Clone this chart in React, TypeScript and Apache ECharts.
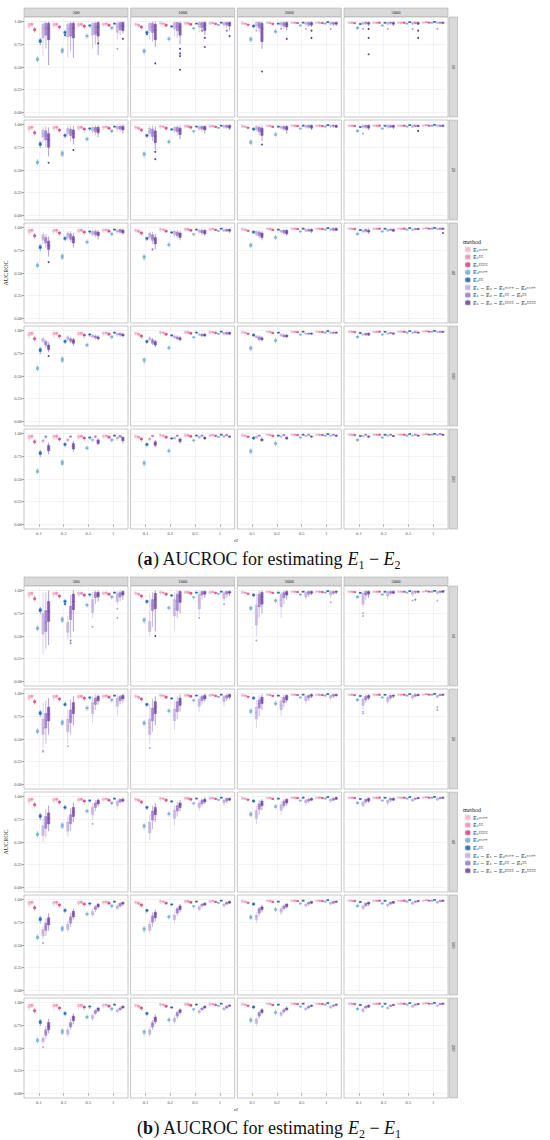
import { useEffect, useRef } from 'react';
import * as echarts from 'echarts';

// ---------- categories / labels ----------
const CATS = ['0.1', '0.2', '0.5', '1'];
const NS = ['500', '1000', '2000', '5000'];
const GROUPS = ['10', '20', '40', '100', '200'];
const LEG_A = [
  'E₁ⁿᵃⁱᵛᵉ', 'E₁ᴱᴱ', 'E₁ᴱᴱᴱᴱ', 'E₂ⁿᵃⁱᵛᵉ', 'E₂ᴱᴱ',
  'E₁ − E₂ ∼ E₁ⁿᵃⁱᵛᵉ − E₂ⁿᵃⁱᵛᵉ', 'E₁ − E₂ ∼ E₁ᴱᴱ − E₂ᴱᴱ', 'E₁ − E₂ ∼ E₁ᴱᴱᴱᴱ − E₂ᴱᴱᴱᴱ',
];
const LEG_B = [
  'E₁ⁿᵃⁱᵛᵉ', 'E₁ᴱᴱ', 'E₁ᴱᴱᴱᴱ', 'E₂ⁿᵃⁱᵛᵉ', 'E₂ᴱᴱ',
  'E₂ − E₁ ∼ E₂ⁿᵃⁱᵛᵉ − E₁ⁿᵃⁱᵛᵉ', 'E₂ − E₁ ∼ E₂ᴱᴱ − E₁ᴱᴱ', 'E₂ − E₁ ∼ E₂ᴱᴱᴱᴱ − E₁ᴱᴱᴱᴱ',
];

// ---------- single-estimator boxes (methods 1-5), per n; [lo,q1,med,q3,hi] in % per r2 ----------
const S_500 = [
  [[91, 94, 96, 98, 99], [92, 95, 97, 98, 99], [93, 95, 97, 98, 99], [94, 96, 97, 98, 99]],
  [[94, 96, 97, 98, 99], [94, 96, 97, 98, 99], [95, 96, 97, 98, 99], [95, 97, 98, 98, 99]],
  [[88, 90, 91, 92, 94], [91, 93, 94, 95, 96], [92, 94, 95, 96, 97], [94, 95, 96, 97, 98]],
  [[55, 57, 58, 60, 62], [64, 66, 68, 70, 72], [81, 83, 84, 85, 87], [90, 92, 93, 94, 95]],
  [[74, 77, 78, 80, 82], [85, 87, 88, 89, 91], [93, 95, 96, 96, 97], [97, 97, 98, 98, 99]],
];
const S_1000 = [
  [[94, 96, 97, 98, 99], [95, 97, 98, 99, 100], [96, 97, 98, 99, 100], [96, 97, 98, 99, 100]],
  [[94, 95, 96, 97, 98], [96, 97, 98, 98, 99], [96, 97, 98, 99, 99], [97, 98, 98, 99, 99]],
  [[91, 93, 94, 95, 96], [94, 95, 96, 97, 98], [95, 96, 97, 98, 98], [96, 97, 97, 98, 99]],
  [[63, 66, 68, 69, 71], [78, 80, 81, 82, 84], [90, 92, 93, 93, 94], [95, 96, 96, 97, 97]],
  [[85, 87, 88, 89, 90], [93, 94, 95, 95, 96], [97, 98, 98, 98, 99], [98, 99, 99, 99, 100]],
];
const S_2000 = [
  [[96, 97, 98, 99, 100], [97, 98, 99, 99, 100], [97, 98, 99, 99, 100], [97, 98, 99, 99, 100]],
  [[96, 97, 98, 98, 99], [97, 98, 98, 99, 100], [97, 98, 99, 99, 100], [97, 98, 99, 99, 100]],
  [[95, 96, 96, 97, 98], [96, 97, 97, 98, 99], [97, 98, 98, 99, 99], [97, 98, 98, 99, 99]],
  [[77, 79, 81, 82, 84], [86, 88, 89, 90, 92], [94, 95, 96, 96, 97], [97, 97, 98, 98, 99]],
  [[93, 94, 95, 96, 97], [97, 97, 98, 98, 99], [98, 99, 99, 99, 100], [99, 99, 99, 100, 100]],
];
const S_5000 = [
  [[97, 98, 99, 99, 100], [97, 98, 99, 99, 100], [98, 98, 99, 99, 100], [98, 98, 99, 99, 100]],
  [[97, 98, 99, 99, 100], [97, 98, 99, 99, 100], [98, 98, 99, 99, 100], [98, 99, 99, 100, 100]],
  [[97, 98, 98, 99, 99], [98, 98, 99, 99, 100], [98, 98, 99, 99, 100], [98, 99, 99, 99, 100]],
  [[91, 92, 93, 94, 95], [94, 95, 96, 96, 97], [97, 97, 98, 98, 99], [98, 98, 99, 99, 100]],
  [[96, 97, 97, 98, 98], [98, 98, 99, 99, 99], [99, 99, 99, 100, 100], [99, 99, 100, 100, 100]],
];
const SINGLES = [S_500, S_1000, S_2000, S_5000];

// ---------- difference methods (6-8), panel (a), per group: [n500,n1000,n2000,n5000] x [m6,m7,m8] x r2 ----------
const A_10 = [
  [[[62, 82, 92, 97, 100], [60, 83, 92, 97, 100], [70, 85, 93, 98, 100], [80, 88, 94, 98, 100]],
   [[70, 85, 93, 98, 100], [68, 84, 92, 98, 100], [75, 86, 94, 98, 100], [85, 91, 96, 99, 100]],
   [[52, 80, 92, 98, 100], [60, 82, 93, 98, 100], [63, 84, 94, 99, 100], [87, 90, 95, 99, 100]]],
  [[[80, 90, 95, 98, 100], [84, 92, 96, 99, 100], [88, 94, 97, 99, 100], [92, 96, 98, 99, 100]],
   [[78, 88, 94, 98, 100], [82, 90, 95, 99, 100], [88, 93, 97, 99, 100], [92, 96, 98, 99, 100]],
   [[72, 80, 90, 97, 100], [75, 85, 93, 98, 100], [85, 90, 96, 99, 100], [90, 95, 98, 99, 100]]],
  [[[92, 95, 97, 99, 100], [93, 96, 98, 99, 100], [94, 97, 98, 99, 100], [95, 97, 98, 99, 100]],
   [[88, 93, 96, 99, 100], [92, 95, 97, 99, 100], [94, 96, 98, 99, 100], [95, 97, 98, 99, 100]],
   [[70, 78, 92, 98, 100], [90, 94, 97, 99, 100], [94, 96, 98, 99, 100], [95, 97, 98, 99, 100]]],
  [[[96, 97, 98, 99, 100], [96, 97, 98, 99, 100], [96, 97, 98, 99, 100], [97, 98, 99, 99, 100]],
   [[96, 98, 99, 99, 100], [96, 98, 99, 99, 100], [97, 98, 99, 99, 100], [97, 98, 99, 99, 100]],
   [[95, 97, 98, 99, 100], [95, 97, 98, 99, 100], [96, 97, 98, 99, 100], [97, 98, 99, 99, 100]]],
];
const A_20 = [
  [[[80, 86, 90, 94, 98], [86, 90, 93, 96, 99], [90, 93, 95, 97, 99], [92, 95, 97, 98, 100]],
   [[75, 83, 88, 93, 98], [82, 88, 92, 95, 99], [88, 92, 95, 97, 99], [92, 95, 97, 98, 100]],
   [[65, 75, 83, 90, 97], [78, 85, 90, 94, 98], [86, 91, 94, 97, 99], [90, 94, 96, 98, 100]]],
  [[[86, 90, 93, 96, 99], [90, 93, 95, 97, 99], [93, 95, 97, 98, 99], [95, 97, 98, 99, 100]],
   [[82, 87, 91, 95, 99], [88, 92, 94, 97, 99], [92, 95, 97, 98, 99], [95, 97, 98, 99, 100]],
   [[72, 80, 87, 93, 98], [84, 89, 93, 96, 99], [90, 94, 96, 98, 99], [94, 96, 98, 99, 100]]],
  [[[92, 94, 96, 98, 99], [94, 96, 97, 98, 99], [95, 97, 98, 99, 100], [96, 98, 98, 99, 100]],
   [[88, 92, 95, 97, 99], [93, 95, 97, 98, 99], [95, 97, 98, 99, 100], [96, 98, 99, 99, 100]],
   [[82, 88, 93, 96, 99], [90, 94, 96, 98, 99], [94, 96, 98, 99, 100], [96, 97, 98, 99, 100]]],
  [[[95, 97, 98, 99, 100], [95, 97, 98, 99, 100], [96, 97, 98, 99, 100], [97, 98, 99, 99, 100]],
   [[95, 97, 98, 99, 100], [96, 97, 98, 99, 100], [97, 98, 99, 99, 100], [97, 98, 99, 99, 100]],
   [[94, 96, 98, 99, 100], [95, 97, 98, 99, 100], [97, 98, 98, 99, 100], [97, 98, 99, 99, 100]]],
];
const A_40 = [
  [[[82, 86, 89, 92, 95], [86, 89, 92, 94, 96], [90, 92, 94, 96, 98], [93, 95, 96, 97, 99]],
   [[78, 83, 86, 89, 93], [84, 87, 90, 93, 96], [89, 92, 94, 96, 98], [93, 95, 97, 98, 99]],
   [[68, 76, 80, 85, 90], [78, 83, 87, 90, 94], [87, 91, 93, 95, 97], [92, 94, 96, 97, 99]]],
  [[[86, 89, 92, 94, 96], [90, 92, 94, 96, 98], [93, 95, 96, 97, 99], [95, 96, 97, 98, 99]],
   [[82, 86, 89, 92, 95], [88, 91, 93, 95, 97], [92, 94, 96, 97, 99], [95, 96, 97, 98, 99]],
   [[76, 82, 86, 89, 93], [86, 89, 92, 94, 96], [91, 93, 95, 97, 98], [94, 96, 97, 98, 99]]],
  [[[90, 92, 94, 96, 97], [93, 95, 96, 97, 98], [95, 96, 97, 98, 99], [96, 97, 98, 99, 99]],
   [[88, 91, 93, 95, 97], [92, 94, 96, 97, 98], [95, 96, 97, 98, 99], [96, 97, 98, 99, 100]],
   [[86, 89, 92, 94, 96], [91, 93, 95, 97, 98], [94, 96, 97, 98, 99], [96, 97, 98, 99, 100]]],
  [[[94, 95, 96, 97, 98], [95, 96, 97, 98, 99], [96, 97, 98, 98, 99], [97, 98, 98, 99, 99]],
   [[94, 96, 97, 98, 99], [96, 97, 98, 98, 99], [97, 98, 98, 99, 99], [97, 98, 99, 99, 100]],
   [[93, 95, 96, 97, 99], [95, 96, 97, 98, 99], [97, 98, 98, 99, 99], [98, 98, 99, 99, 100]]],
];
const A_100 = [
  [[[86, 88, 90, 91, 93], [88, 90, 92, 93, 95], [91, 93, 94, 95, 96], [93, 95, 96, 97, 98]],
   [[81, 84, 86, 88, 90], [86, 88, 90, 91, 93], [90, 92, 93, 94, 96], [93, 95, 96, 97, 98]],
   [[76, 79, 82, 84, 87], [83, 86, 88, 90, 92], [89, 91, 92, 93, 95], [93, 94, 95, 96, 98]]],
  [[[88, 90, 91, 92, 94], [91, 92, 93, 94, 96], [94, 95, 96, 96, 97], [95, 96, 97, 98, 98]],
   [[84, 86, 88, 90, 92], [89, 91, 92, 93, 95], [93, 94, 95, 96, 97], [95, 96, 97, 98, 99]],
   [[82, 84, 86, 88, 90], [88, 90, 91, 92, 94], [93, 94, 95, 96, 97], [95, 96, 97, 98, 99]]],
  [[[91, 92, 93, 94, 95], [93, 94, 95, 96, 97], [95, 96, 97, 97, 98], [96, 97, 98, 98, 99]],
   [[88, 90, 92, 93, 95], [92, 93, 94, 95, 97], [95, 96, 97, 97, 98], [96, 97, 98, 98, 99]],
   [[88, 90, 91, 92, 94], [92, 93, 94, 95, 96], [95, 96, 97, 97, 98], [97, 97, 98, 98, 99]]],
  [[[94, 95, 96, 96, 97], [95, 96, 97, 97, 98], [96, 97, 98, 98, 99], [97, 98, 98, 99, 99]],
   [[94, 95, 96, 97, 98], [96, 97, 97, 98, 98], [97, 98, 98, 99, 99], [98, 98, 99, 99, 99]],
   [[94, 95, 96, 97, 98], [96, 96, 97, 97, 98], [97, 98, 98, 98, 99], [98, 98, 99, 99, 99]]],
];
const A_200 = [
  [[[89, 91, 92, 93, 94], [90, 92, 93, 94, 95], [91, 92, 93, 94, 96], [92, 94, 95, 96, 97]],
   [[94, 96, 97, 97, 98], [95, 96, 97, 97, 98], [95, 96, 97, 97, 98], [95, 96, 97, 98, 98]],
   [[77, 81, 84, 87, 90], [80, 83, 86, 89, 92], [87, 89, 91, 93, 95], [89, 92, 94, 96, 97]]],
  [[[92, 93, 94, 95, 96], [93, 94, 95, 96, 97], [94, 95, 96, 97, 98], [95, 96, 97, 98, 98]],
   [[96, 97, 97, 98, 98], [96, 97, 98, 98, 99], [97, 97, 98, 98, 99], [97, 98, 98, 99, 99]],
   [[85, 87, 89, 91, 93], [89, 91, 93, 94, 96], [93, 94, 95, 96, 97], [95, 96, 97, 97, 98]]],
  [[[94, 95, 96, 97, 98], [95, 96, 97, 97, 98], [96, 97, 97, 98, 98], [96, 97, 98, 98, 99]],
   [[97, 97, 98, 98, 99], [97, 98, 98, 99, 99], [98, 98, 99, 99, 99], [98, 98, 99, 99, 100]],
   [[91, 92, 93, 94, 96], [93, 94, 95, 96, 97], [95, 96, 97, 97, 98], [96, 97, 98, 98, 99]]],
  [[[96, 97, 97, 98, 98], [96, 97, 98, 98, 99], [97, 97, 98, 98, 99], [97, 98, 98, 99, 99]],
   [[98, 98, 99, 99, 99], [98, 98, 99, 99, 100], [98, 99, 99, 99, 100], [98, 99, 99, 100, 100]],
   [[95, 96, 97, 97, 98], [96, 97, 97, 98, 98], [97, 98, 98, 98, 99], [98, 98, 99, 99, 99]]],
];

// ---------- difference methods (6-8), panel (b) ----------
const B_10 = [
  [[[30, 52, 62, 75, 98], [46, 54, 60, 65, 72], [70, 76, 83, 90, 98], [84, 88, 93, 97, 100]],
   [[36, 55, 65, 78, 98], [48, 68, 76, 83, 95], [85, 92, 95, 98, 100], [88, 93, 96, 98, 100]],
   [[40, 66, 77, 88, 100], [55, 79, 88, 96, 100], [88, 93, 96, 98, 100], [90, 95, 97, 99, 100]]],
  [[[50, 55, 60, 66, 97], [55, 72, 80, 90, 98], [72, 80, 88, 96, 100], [88, 91, 95, 98, 100]],
   [[60, 78, 84, 90, 98], [70, 78, 88, 96, 100], [90, 95, 97, 99, 100], [92, 96, 98, 99, 100]],
   [[55, 80, 90, 97, 100], [75, 87, 94, 99, 100], [92, 96, 98, 99, 100], [94, 97, 98, 99, 100]]],
  [[[50, 62, 72, 84, 97], [70, 82, 90, 96, 99], [90, 93, 96, 98, 100], [92, 95, 97, 99, 100]],
   [[70, 82, 90, 96, 100], [85, 92, 96, 98, 100], [93, 96, 98, 99, 100], [95, 97, 98, 99, 100]],
   [[75, 85, 93, 98, 100], [90, 95, 97, 99, 100], [95, 97, 98, 99, 100], [96, 98, 99, 99, 100]]],
  [[[80, 85, 92, 97, 100], [90, 94, 97, 99, 100], [93, 96, 98, 99, 100], [95, 97, 98, 99, 100]],
   [[90, 95, 97, 99, 100], [95, 97, 98, 99, 100], [96, 98, 99, 99, 100], [97, 98, 99, 99, 100]],
   [[92, 96, 98, 99, 100], [96, 97, 98, 99, 100], [97, 98, 99, 99, 100], [98, 98, 99, 100, 100]]],
];
const B_20 = [
  [[[40, 55, 62, 72, 90], [45, 58, 64, 72, 82], [68, 78, 84, 90, 97], [75, 86, 91, 95, 99]],
   [[45, 62, 70, 78, 92], [55, 68, 75, 82, 93], [82, 88, 92, 95, 99], [88, 92, 95, 97, 99]],
   [[55, 70, 77, 85, 95], [65, 78, 84, 90, 97], [88, 92, 95, 97, 99], [90, 94, 96, 98, 100]]],
  [[[45, 55, 63, 72, 88], [60, 70, 76, 83, 92], [80, 86, 90, 94, 98], [86, 91, 94, 97, 99]],
   [[58, 70, 77, 84, 94], [72, 80, 86, 91, 97], [88, 92, 95, 97, 99], [92, 95, 97, 98, 100]],
   [[65, 78, 85, 91, 97], [80, 87, 91, 95, 99], [91, 94, 96, 98, 100], [94, 96, 98, 99, 100]]],
  [[[62, 72, 79, 85, 93], [75, 82, 87, 92, 97], [88, 92, 94, 97, 99], [92, 95, 97, 98, 99]],
   [[75, 84, 89, 93, 98], [85, 90, 93, 96, 99], [92, 95, 97, 98, 99], [95, 97, 98, 99, 100]],
   [[82, 89, 93, 96, 99], [90, 93, 96, 98, 99], [95, 97, 98, 99, 100], [96, 98, 98, 99, 100]]],
  [[[82, 87, 91, 94, 97], [88, 91, 94, 96, 98], [92, 95, 97, 98, 99], [94, 96, 97, 98, 99]],
   [[90, 93, 95, 97, 99], [93, 95, 97, 98, 99], [96, 97, 98, 99, 100], [97, 98, 98, 99, 100]],
   [[93, 95, 97, 98, 99], [95, 97, 98, 98, 99], [97, 98, 98, 99, 100], [98, 98, 99, 99, 100]]],
];
const B_40 = [
  [[[50, 57, 62, 68, 76], [56, 62, 67, 72, 78], [74, 80, 84, 88, 93], [86, 90, 92, 95, 97]],
   [[55, 65, 71, 78, 86], [62, 70, 75, 80, 87], [84, 88, 91, 93, 96], [92, 94, 95, 97, 98]],
   [[62, 70, 76, 82, 90], [72, 78, 83, 88, 93], [89, 92, 94, 96, 98], [93, 95, 96, 97, 99]]],
  [[[52, 60, 66, 72, 80], [68, 76, 80, 85, 90], [84, 88, 91, 93, 96], [90, 93, 95, 96, 98]],
   [[64, 74, 79, 84, 90], [78, 84, 87, 90, 94], [89, 92, 94, 96, 98], [93, 95, 97, 98, 99]],
   [[72, 80, 84, 88, 93], [84, 88, 91, 93, 96], [92, 94, 96, 97, 99], [95, 96, 97, 98, 99]]],
  [[[70, 76, 80, 85, 90], [80, 85, 88, 91, 95], [90, 93, 95, 96, 98], [93, 95, 96, 97, 98]],
   [[80, 86, 89, 92, 96], [87, 90, 93, 95, 97], [93, 95, 96, 97, 99], [95, 96, 97, 98, 99]],
   [[85, 90, 92, 95, 97], [90, 93, 95, 97, 98], [95, 96, 97, 98, 99], [96, 97, 98, 99, 100]]],
  [[[87, 90, 92, 94, 96], [90, 93, 94, 96, 97], [94, 95, 96, 97, 98], [95, 96, 97, 98, 99]],
   [[92, 94, 96, 97, 98], [94, 96, 97, 98, 99], [96, 97, 98, 98, 99], [97, 98, 98, 99, 100]],
   [[93, 95, 97, 98, 99], [95, 96, 97, 98, 99], [97, 98, 98, 99, 99], [98, 98, 99, 99, 100]]],
];
const B_100 = [
  [[[56, 60, 64, 67, 71], [63, 67, 70, 73, 76], [80, 83, 85, 87, 90], [88, 90, 92, 93, 95]],
   [[60, 66, 70, 74, 79], [70, 74, 78, 81, 85], [86, 89, 91, 92, 94], [91, 93, 94, 96, 97]],
   [[66, 72, 76, 80, 85], [78, 81, 84, 87, 90], [90, 92, 93, 95, 96], [93, 95, 96, 97, 98]]],
  [[[62, 66, 70, 73, 77], [74, 78, 81, 83, 87], [87, 89, 91, 92, 94], [91, 93, 94, 95, 96]],
   [[70, 75, 79, 82, 86], [82, 85, 88, 90, 92], [91, 93, 94, 95, 96], [94, 95, 96, 97, 98]],
   [[76, 80, 84, 86, 89], [86, 89, 91, 93, 95], [93, 94, 95, 96, 97], [95, 96, 97, 98, 99]]],
  [[[74, 78, 81, 83, 86], [83, 86, 88, 90, 92], [91, 93, 94, 95, 96], [93, 95, 96, 97, 98]],
   [[82, 85, 88, 90, 92], [88, 90, 92, 93, 95], [93, 95, 96, 97, 98], [95, 96, 97, 98, 99]],
   [[86, 89, 91, 92, 94], [90, 92, 94, 95, 96], [95, 96, 97, 98, 98], [96, 97, 98, 98, 99]]],
  [[[88, 90, 92, 93, 95], [91, 93, 94, 95, 96], [94, 95, 96, 97, 98], [95, 96, 97, 98, 99]],
   [[92, 93, 95, 96, 97], [94, 95, 96, 97, 98], [96, 97, 98, 98, 99], [97, 98, 98, 99, 99]],
   [[93, 95, 96, 97, 98], [95, 96, 97, 98, 98], [97, 98, 98, 99, 99], [98, 98, 99, 99, 100]]],
];
const B_200 = [
  [[[54, 57, 59, 61, 64], [62, 65, 68, 70, 73], [80, 82, 84, 86, 88], [88, 90, 91, 92, 94]],
   [[60, 64, 67, 70, 74], [70, 73, 76, 78, 82], [86, 88, 90, 91, 93], [91, 92, 93, 94, 96]],
   [[66, 70, 74, 78, 82], [76, 80, 83, 85, 88], [89, 91, 93, 94, 95], [93, 94, 95, 96, 97]]],
  [[[62, 65, 68, 70, 73], [76, 79, 81, 83, 86], [87, 89, 90, 91, 93], [91, 92, 93, 94, 95]],
   [[70, 73, 76, 78, 81], [82, 85, 87, 89, 91], [91, 92, 93, 94, 95], [93, 94, 95, 96, 97]],
   [[76, 79, 82, 84, 87], [87, 89, 91, 92, 94], [93, 94, 95, 96, 97], [95, 96, 97, 97, 98]]],
  [[[74, 77, 80, 82, 84], [84, 86, 88, 89, 91], [91, 92, 93, 94, 95], [93, 94, 95, 96, 97]],
   [[82, 85, 87, 89, 91], [88, 90, 91, 92, 94], [93, 94, 95, 96, 97], [95, 96, 97, 97, 98]],
   [[87, 89, 91, 92, 94], [91, 92, 93, 94, 96], [95, 96, 96, 97, 98], [96, 97, 98, 98, 99]]],
  [[[89, 90, 92, 93, 94], [92, 93, 94, 95, 96], [94, 95, 96, 97, 97], [95, 96, 97, 97, 98]],
   [[93, 94, 95, 96, 97], [95, 96, 96, 97, 98], [96, 97, 98, 98, 99], [97, 98, 98, 99, 99]],
   [[94, 95, 96, 97, 98], [96, 97, 97, 98, 98], [97, 98, 98, 99, 99], [98, 98, 99, 99, 100]]],
];

// ---------- outliers: [group, n, r2, method, value%] ----------
const OUT_A = [
  [0, 0, 1, 4, 85], [0, 0, 1, 7, 55], [0, 0, 2, 7, 76], [0, 0, 3, 5, 70], [0, 0, 3, 7, 81],
  [0, 1, 0, 4, 86], [0, 1, 0, 7, 54], [0, 1, 1, 7, 70], [0, 1, 1, 7, 65], [0, 1, 1, 7, 62], [0, 1, 1, 7, 47],
  [0, 1, 2, 6, 90], [0, 1, 2, 7, 82], [0, 1, 2, 7, 72], [0, 1, 3, 6, 90], [0, 1, 3, 7, 84],
  [0, 2, 0, 5, 90], [0, 2, 0, 7, 45], [0, 2, 1, 5, 92], [0, 2, 1, 7, 81], [0, 2, 2, 5, 92], [0, 2, 2, 7, 90], [0, 2, 2, 7, 82], [0, 2, 3, 5, 92],
  [0, 3, 0, 5, 92], [0, 3, 0, 7, 92], [0, 3, 0, 7, 82], [0, 3, 0, 7, 64], [0, 3, 1, 5, 92], [0, 3, 2, 5, 92], [0, 3, 2, 7, 90], [0, 3, 2, 7, 82], [0, 3, 3, 5, 92],
  [1, 0, 0, 7, 58], [1, 0, 1, 7, 72], [1, 1, 0, 7, 62], [1, 1, 0, 7, 70], [1, 2, 0, 7, 78], [1, 3, 0, 5, 90], [1, 3, 2, 7, 93],
  [2, 0, 0, 7, 62], [2, 1, 0, 6, 76], [2, 3, 3, 7, 94], [3, 0, 0, 7, 72],
];
const OUT_B = [
  [0, 0, 1, 6, 45], [0, 0, 1, 6, 42], [0, 0, 2, 5, 60], [0, 0, 2, 5, 66], [0, 0, 3, 5, 70], [0, 0, 3, 5, 80], [0, 0, 1, 4, 85],
  [0, 1, 0, 7, 50], [0, 1, 2, 5, 70], [0, 1, 3, 5, 85],
  [0, 2, 0, 5, 45], [0, 2, 2, 5, 88], [0, 2, 3, 5, 87],
  [0, 3, 0, 5, 75], [0, 3, 0, 5, 72], [0, 3, 2, 5, 89], [0, 3, 2, 6, 90], [0, 3, 3, 5, 89],
  [1, 0, 0, 5, 37], [1, 0, 0, 5, 36], [1, 0, 1, 5, 42], [1, 1, 0, 5, 40],
  [1, 3, 0, 5, 80], [1, 3, 0, 5, 78], [1, 3, 3, 5, 85], [1, 3, 3, 5, 82],
  [2, 0, 0, 5, 44], [2, 0, 2, 5, 70], [2, 2, 0, 5, 66], [3, 0, 0, 5, 52], [4, 0, 0, 5, 51],
];

// ---------- style ----------
const COLORS = ['#f0afc9', '#ec86b0', '#d93a76', '#6ea8cf', '#1a5ca6', '#bba4dc', '#9270c6', '#643a9a'];
const FILLS = ['rgba(243,184,208,0.75)', 'rgba(238,141,180,0.75)', 'rgba(220,63,121,0.75)', 'rgba(118,174,210,0.75)',
  'rgba(28,95,168,0.75)', 'rgba(195,173,224,0.75)', 'rgba(154,120,203,0.75)', 'rgba(106,61,159,0.75)'];
const FONT = "'Liberation Serif', 'DejaVu Serif', serif";
const SLOT = 0.9 / 8;
const COL_L = 24, COL_STEP = 106.67, PW = 104, PH = 100, ROW_STEP = 103;

function renderBox(_p: any, api: any) {
  const m = api.value(1);
  const xc = api.value(0) + (m - 3.5) * SLOT;
  const y = (v: number) => api.coord([xc, v])[1];
  const x = api.coord([xc, 0])[0];
  const w = api.size([SLOT, 0])[0] * 0.85;
  const yLo = y(api.value(2)), yQ1 = y(api.value(3)), yMd = y(api.value(4)), yQ3 = y(api.value(5)), yHi = y(api.value(6));
  return {
    type: 'group',
    children: [
      { type: 'line', shape: { x1: x, y1: yLo, x2: x, y2: yHi }, style: { stroke: COLORS[m], lineWidth: 0.5 } },
      { type: 'rect', shape: { x: x - w / 2, y: yQ3, width: w, height: Math.max(yQ1 - yQ3, 0.8) }, style: { fill: FILLS[m], stroke: COLORS[m], lineWidth: 0.4 } },
      { type: 'line', shape: { x1: x - w / 2, y1: yMd, x2: x + w / 2, y2: yMd }, style: { stroke: COLORS[m], lineWidth: 0.6 } },
    ],
  };
}
function renderPt(_p: any, api: any) {
  const m = api.value(1);
  const pt = api.coord([api.value(0) + (m - 3.5) * SLOT, api.value(2)]);
  return { type: 'circle', shape: { cx: pt[0], cy: pt[1], r: 0.95 }, style: { fill: COLORS[m] } };
}

function buildOption() {
  const figs = [
    { top: 8, purples: [A_10, A_20, A_40, A_100, A_200], outs: OUT_A, legend: LEG_A, tag: 'a', sub: ['1', '2'], legTop: 241.5 },
    { top: 577, purples: [B_10, B_20, B_40, B_100, B_200], outs: OUT_B, legend: LEG_B, tag: 'b', sub: ['2', '1'], legTop: 809.5 },
  ];
  const grid: any[] = [], xAxis: any[] = [], yAxis: any[] = [], series: any[] = [], graphic: any[] = [];
  figs.forEach((fig) => {
    for (let r = 0; r < 5; r++) {
      for (let c = 0; c < 4; c++) {
        const idx = grid.length;
        const left = COL_L + c * COL_STEP;
        const top = fig.top + 9 + r * ROW_STEP;
        grid.push({ left, top, width: PW, height: PH, show: true, backgroundColor: '#ffffff', borderColor: '#a3a3a3', borderWidth: 0.6 });
        xAxis.push({
          type: 'value', gridIndex: idx, min: 0.4, max: 4.6,
          axisLine: { show: false },
          axisTick: { show: r === 4, customValues: [1, 2, 3, 4], length: 2, lineStyle: { color: '#555', width: 0.5 } },
          axisLabel: { show: r === 4, customValues: [1, 2, 3, 4], formatter: (v: number) => CATS[Math.round(v) - 1], fontSize: 4.5, color: '#4d4d4d', margin: 2, fontFamily: FONT },
          splitLine: { show: true, lineStyle: { color: '#ebebeb', width: 0.6 } },
        });
        yAxis.push({
          type: 'value', gridIndex: idx, min: -0.05, max: 1.05,
          axisLine: { show: false },
          axisTick: { show: c === 0, customValues: [0, 0.25, 0.5, 0.75, 1], length: 2, lineStyle: { color: '#555', width: 0.5 } },
          axisLabel: { show: c === 0, customValues: [0, 0.25, 0.5, 0.75, 1], formatter: (v: number) => v.toFixed(2), fontSize: 4.5, color: '#4d4d4d', margin: 2, fontFamily: FONT },
          splitLine: { show: true, lineStyle: { color: '#ebebeb', width: 0.6 } },
        });
        const single = SINGLES[c];
        const purple = fig.purples[r][c];
        const boxes: number[][] = [];
        for (let k = 0; k < 4; k++) {
          for (let m = 0; m < 8; m++) {
            const b = m < 5 ? single[m][k] : purple[m - 5][k];
            boxes.push([k + 1, m, b[0] / 100, b[1] / 100, b[2] / 100, b[3] / 100, b[4] / 100]);
          }
        }
        series.push({
          type: 'custom', xAxisIndex: idx, yAxisIndex: idx, silent: true,
          dimensions: ['cat', 'method', 'lo', 'q1', 'med', 'q3', 'hi'], encode: { x: 0, y: 4 },
          renderItem: renderBox, data: boxes,
        });
        const pts = fig.outs.filter((o) => o[0] === r && o[1] === c).map((o) => [o[2] + 1, o[3], o[4] / 100]);
        series.push({
          type: 'custom', xAxisIndex: idx, yAxisIndex: idx, silent: true,
          dimensions: ['cat', 'method', 'value'], encode: { x: 0, y: 2 },
          renderItem: renderPt, data: pts,
        });
        if (r === 0) {
          graphic.push({ type: 'rect', shape: { x: left, y: fig.top, width: PW, height: 8.5 }, style: { fill: '#d9d9d9', stroke: '#a3a3a3', lineWidth: 0.5 } });
          graphic.push({ type: 'text', x: left + PW / 2, y: fig.top + 4.4, style: { text: NS[c], fontSize: 4.5, fill: '#1a1a1a', fontFamily: FONT, align: 'center', verticalAlign: 'middle' } });
        }
        if (c === 3) {
          graphic.push({ type: 'rect', shape: { x: left + PW + 1, y: top, width: 8.5, height: PH }, style: { fill: '#d9d9d9', stroke: '#a3a3a3', lineWidth: 0.5 } });
          graphic.push({ type: 'text', x: left + PW + 5.3, y: top + PH / 2, rotation: -Math.PI / 2, style: { text: GROUPS[r], fontSize: 4.5, fill: '#1a1a1a', fontFamily: FONT, align: 'center', verticalAlign: 'middle' } });
        }
      }
    }
    const panelsBottom = fig.top + 9 + 4 * ROW_STEP + PH;
    graphic.push({ type: 'text', x: 6, y: (fig.top + 9 + panelsBottom) / 2, rotation: Math.PI / 2, style: { text: 'AUCROC', fontSize: 6, fill: '#1a1a1a', fontFamily: FONT, align: 'center', verticalAlign: 'middle' } });
    graphic.push({ type: 'text', x: 236, y: panelsBottom + 11.5, style: { text: 'r2', fontSize: 5, fill: '#1a1a1a', fontFamily: FONT, align: 'center', verticalAlign: 'middle' } });
    // legend
    graphic.push({ type: 'text', x: 463, y: fig.legTop, style: { text: 'method', fontSize: 6, fill: '#1a1a1a', fontFamily: FONT, align: 'left', verticalAlign: 'middle' } });
    fig.legend.forEach((lab, m) => {
      const cy = fig.legTop + 8 + m * 7.6;
      graphic.push({ type: 'rect', shape: { x: 464.5, y: cy - 3.3, width: 6.6, height: 6.6 }, style: { fill: '#f2f2f2' } });
      graphic.push({ type: 'line', shape: { x1: 467.8, y1: cy - 3, x2: 467.8, y2: cy + 3 }, style: { stroke: COLORS[m], lineWidth: 0.4 } });
      graphic.push({ type: 'rect', shape: { x: 465.6, y: cy - 1.8, width: 4.4, height: 3.6 }, style: { fill: FILLS[m], stroke: COLORS[m], lineWidth: 0.4 } });
      graphic.push({ type: 'line', shape: { x1: 465.6, y1: cy, x2: 470, y2: cy }, style: { stroke: COLORS[m], lineWidth: 0.5 } });
      graphic.push({ type: 'text', x: 473, y: cy, style: { text: lab, fontSize: 5, fill: '#1a1a1a', fontFamily: "'DejaVu Serif', serif", align: 'left', verticalAlign: 'middle' } });
    });
    // caption
    graphic.push({
      type: 'text', x: 269, y: panelsBottom + 30,
      style: {
        text: `{n|(}{b|${fig.tag}}{n|) AUCROC for estimating }{i|E}{s|${fig.sub[0]}}{n| − }{i|E}{s|${fig.sub[1]}}`,
        align: 'center', verticalAlign: 'middle',
        rich: {
          n: { fontSize: 18, fontFamily: FONT, fill: '#111', lineHeight: 24 },
          b: { fontSize: 18, fontFamily: FONT, fontWeight: 'bold', fill: '#111', lineHeight: 24 },
          i: { fontSize: 18, fontFamily: FONT, fontStyle: 'italic', fill: '#111', lineHeight: 24 },
          s: { fontSize: 12, fontFamily: FONT, fill: '#111', lineHeight: 12, verticalAlign: 'bottom' },
        },
      },
    });
  });
  return { animation: false, grid, xAxis, yAxis, series, graphic };
}

export default function App() {
  const ref = useRef<HTMLDivElement>(null);
  useEffect(() => {
    const chart = echarts.init(ref.current as HTMLDivElement, null, { renderer: 'svg' });
    chart.setOption(buildOption() as any);
    return () => chart.dispose();
  }, []);
  return <div ref={ref} style={{ position: 'absolute', left: 0, top: 0, width: 550, height: 1140, background: '#fff' }} />;
}
